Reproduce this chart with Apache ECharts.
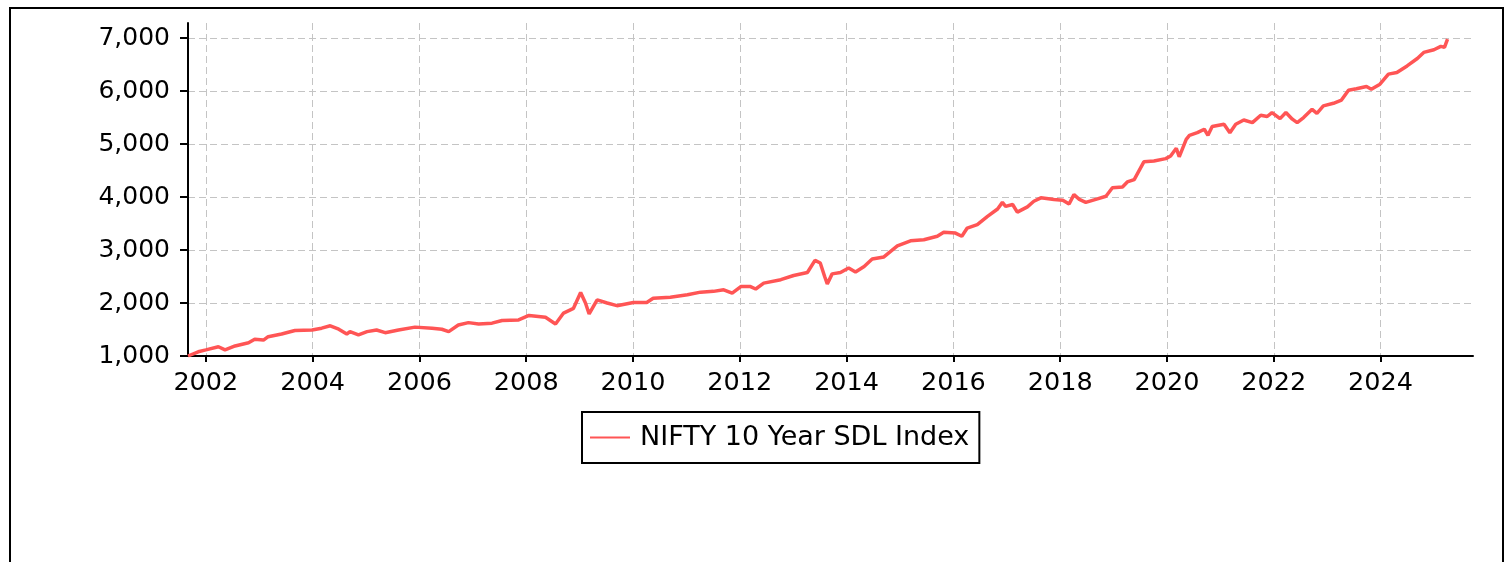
<!DOCTYPE html>
<html>
<head>
<meta charset="utf-8">
<script src="https://cdn.jsdelivr.net/npm/echarts@6/dist/echarts.min.js"></script>
<style>
  html, body { margin: 0; padding: 0; background: #fff; }
  #chart { width: 1509px; height: 562px; }
</style>
</head>
<body>
<div id="chart"></div>
<script>
// NIFTY 10 Year SDL Index
const dates = [
  '2001-09-01', '2001-11-10', '2002-01-01', '2002-03-28', '2002-05-12', '2002-07-20', '2002-10-20', '2002-12-01',
  '2003-01-30', '2003-03-03', '2003-06-03', '2003-09-02', '2003-12-28', '2004-03-03', '2004-05-01', '2004-06-28',
  '2004-08-22', '2004-09-13', '2004-11-10', '2005-01-08', '2005-03-14', '2005-05-12', '2005-08-11', '2005-12-02',
  '2006-03-28', '2006-06-03', '2006-07-20', '2006-09-24', '2006-12-02', '2007-02-10', '2007-05-12', '2007-07-20',
  '2007-11-10', '2008-01-20', '2008-05-12', '2008-07-20', '2008-09-13', '2008-11-20', '2009-01-08', '2009-02-10',
  '2009-03-07', '2009-05-01', '2009-07-08', '2009-09-13', '2010-01-04', '2010-04-05', '2010-05-19', '2010-09-13',
  '2011-01-08', '2011-04-08', '2011-07-05', '2011-09-13', '2011-11-10', '2012-01-08', '2012-03-14', '2012-04-19',
  '2012-06-13', '2012-10-08', '2013-01-04', '2013-04-08', '2013-05-30', '2013-07-05', '2013-08-04', '2013-08-22',
  '2013-09-24', '2013-11-20', '2014-01-15', '2014-03-03', '2014-05-01', '2014-06-25', '2014-09-13', '2014-12-14',
  '2015-03-14', '2015-06-13', '2015-09-13', '2015-10-27', '2016-01-15', '2016-02-28', '2016-04-05', '2016-06-13',
  '2016-08-22', '2016-10-30', '2016-12-02', '2016-12-24', '2017-02-10', '2017-03-14', '2017-05-22', '2017-07-05',
  '2017-08-22', '2017-11-20', '2018-01-19', '2018-03-03', '2018-04-05', '2018-05-12', '2018-06-25', '2018-09-13',
  '2018-11-10', '2018-12-24', '2019-03-03', '2019-04-05', '2019-05-22', '2019-07-27', '2019-10-04', '2019-12-24',
  '2020-01-26', '2020-02-15', '2020-03-05', '2020-03-25', '2020-05-12', '2020-06-03', '2020-07-27', '2020-09-13',
  '2020-10-08', '2020-11-06', '2021-01-26', '2021-03-07', '2021-04-16', '2021-06-10', '2021-08-08', '2021-10-04',
  '2021-11-17', '2021-12-20', '2022-02-13', '2022-03-25', '2022-05-08', '2022-06-10', '2022-07-24', '2022-09-20',
  '2022-10-23', '2022-12-06', '2023-02-13', '2023-04-09', '2023-05-27', '2023-07-20', '2023-09-27', '2023-10-30',
  '2023-12-28', '2024-02-24', '2024-04-22', '2024-07-01', '2024-09-09', '2024-10-23', '2025-01-01', '2025-02-17',
  '2025-03-14', '2025-04-04'
]
const values = [
  1000, 1080, 1115, 1175, 1115, 1190, 1250, 1315,
  1300, 1365, 1415, 1480, 1490, 1525, 1570, 1505,
  1415, 1460, 1400, 1460, 1490, 1440, 1490, 1545,
  1525, 1505, 1460, 1585, 1630, 1605, 1620, 1670,
  1680, 1765, 1730, 1605, 1810, 1900, 2200, 2000,
  1795, 2060, 2000, 1950, 2010, 2010, 2090, 2110,
  2155, 2205, 2220, 2250, 2185, 2310, 2310, 2265,
  2375, 2440, 2520, 2575, 2805, 2755, 2500, 2360,
  2550, 2575, 2660, 2585, 2690, 2830, 2870, 3080,
  3175, 3195, 3260, 3335, 3320, 3260, 3415, 3480,
  3635, 3775, 3900, 3825, 3860, 3715, 3815, 3920,
  3985, 3955, 3940, 3870, 4045, 3955, 3900, 3965,
  4015, 4175, 4190, 4285, 4330, 4665, 4680, 4725,
  4775, 4850, 4920, 4760, 5090, 5165, 5215, 5280,
  5165, 5330, 5375, 5215, 5375, 5455, 5405, 5545,
  5520, 5595, 5480, 5595, 5470, 5405, 5500, 5655,
  5580, 5720, 5770, 5830, 6015, 6045, 6085, 6035,
  6130, 6320, 6350, 6475, 6615, 6730, 6780, 6845,
  6825, 6980
]
const yearTicks = [2002, 2004, 2006, 2008, 2010, 2012, 2014, 2016, 2018, 2020, 2022, 2024]
const valueTicks = [1000, 2000, 3000, 4000, 5000, 6000, 7000]

// date string -> fractional year
function toYear(s) {
  const p = s.split('-').map(Number)
  const start = Date.UTC(p[0], 0, 1)
  const end = Date.UTC(p[0] + 1, 0, 1)
  return p[0] + (Date.UTC(p[0], p[1] - 1, p[2]) - start) / (end - start)
}

const chart = echarts.init(document.getElementById('chart'))
const font = 'DejaVu Sans'
const gridLine = { show: true, lineStyle: { color: '#c4c4c4', width: 1, type: [7, 4] } }

chart.setOption({
  animation: false,
  textStyle: { fontFamily: font },
  graphic: [
    {
      type: 'rect',
      shape: { x: 10, y: 8, width: 1493, height: 620 },
      style: { fill: 'none', stroke: '#000', lineWidth: 2 },
      silent: true
    }
  ],
  grid: { left: 188, right: 36, top: 23, bottom: 206 },
  legend: {
    left: 582,
    top: 412,
    padding: [12, 10, 12, 8],
    borderColor: '#000',
    borderWidth: 2,
    icon: 'rect',
    itemWidth: 40,
    itemHeight: 2,
    textStyle: { fontFamily: font, fontSize: 27, color: '#000', padding: [0, 0, 0, 5] },
    data: ['NIFTY 10 Year SDL Index']
  },
  xAxis: {
    type: 'value',
    min: toYear('2001-09-01'),
    max: toYear('2025-09-25'),
    axisLine: { lineStyle: { color: '#000', width: 2 } },
    axisTick: {
      show: true,
      length: 6,
      lineStyle: { color: '#000', width: 2 },
      customValues: yearTicks
    },
    axisLabel: {
      fontFamily: font,
      fontSize: 25.5,
      color: '#000',
      margin: 14,
      customValues: yearTicks,
      formatter: v => String(Math.round(v))
    },
    splitLine: gridLine
  },
  yAxis: {
    type: 'value',
    min: 1000,
    max: 7285,
    axisLine: { show: true, lineStyle: { color: '#000', width: 2 } },
    axisTick: {
      show: true,
      length: 8,
      lineStyle: { color: '#000', width: 2 },
      customValues: valueTicks
    },
    axisLabel: {
      fontFamily: font,
      fontSize: 25,
      color: '#000',
      margin: 18,
      customValues: valueTicks,
      formatter: v => v.toLocaleString('en-US')
    },
    splitLine: gridLine
  },
  series: [
    {
      name: 'NIFTY 10 Year SDL Index',
      type: 'line',
      symbol: 'none',
      data: dates.map((d, i) => [toYear(d), values[i]]),
      lineStyle: { color: '#ff5555', width: 3.5 },
      itemStyle: { color: '#ff5555' }
    }
  ]
})
</script>
</body>
</html>
